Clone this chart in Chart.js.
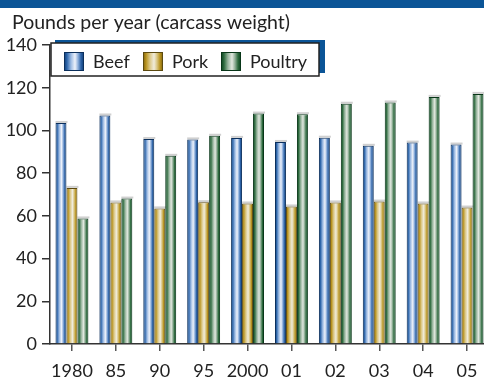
<!DOCTYPE html>
<html>
<head>
<meta charset="utf-8">
<script src="https://cdn.jsdelivr.net/npm/chart.js@4.4.1/dist/chart.umd.min.js"></script>
<style>
  html, body { margin: 0; padding: 0; background: #fff; overflow: hidden; }
  #wrap { position: relative; width: 489px; height: 377px; }
  canvas { display: block; }
</style>
</head>
<body>
<div id="wrap"><canvas id="chart" width="489" height="377"></canvas></div>
<script>
// Per-capita meat consumption, pounds per year (carcass weight)
const years = ['1980', '85', '90', '95', '2000', '01', '02', '03', '04', '05'];
const beef = [103.5, 107, 96, 95.8, 96.5, 94.6, 96.6, 92.8, 94.3, 93.4];
const pork = [73.1, 66.3, 63.5, 66.4, 65.8, 64.4, 66.3, 66.7, 65.8, 63.9];
const poultry = [58.8, 68.1, 88.1, 97.5, 107.9, 107.6, 112.5, 113.1, 115.7, 117.1];
const yTicks = [0, 20, 40, 60, 80, 100, 120, 140];

const FONT = 'Lato, "Open Sans", sans-serif';
const INK = '#222';

// Cylinder-style shading stops for each series
const shades = {
  Beef:    { stops: ['#0d3a73', '#2f67ab', '#9dbbe3', '#eef2fa', '#8fb0dc', '#2c62a6', '#0d3a73'], border: '#0b2f5c' },
  Pork:    { stops: ['#7d600a', '#b8931f', '#dcc98a', '#f0ecdc', '#d9c581', '#b8931f', '#7d600a'], border: '#5c4a10' },
  Poultry: { stops: ['#083d1c', '#2d6b3e', '#98b59e', '#e2e8e0', '#8fae96', '#2d6b3e', '#083d1c'], border: '#083618' }
};
const stopPos = [0, 0.15, 0.35, 0.55, 0.7, 0.85, 1];

function shade(ctx, name, x0, x1) {
  const g = ctx.createLinearGradient(x0, 0, x1, 0);
  shades[name].stops.forEach((c, i) => g.addColorStop(stopPos[i], c));
  return g;
}

// Each bar gets its own horizontal gradient, set just before it is drawn
const barShading = {
  id: 'barShading',
  beforeDatasetsDraw(chart) {
    const ctx = chart.ctx;
    chart.data.datasets.forEach((ds, i) => {
      const meta = chart.getDatasetMeta(i);
      meta.data.forEach(el => {
        const p = el.getProps(['x', 'y', 'width'], true);
        const x0 = p.x - p.width / 2;
        // soft grey cap above each bar
        ctx.save();
        ctx.fillStyle = 'rgba(120,120,120,0.35)';
        ctx.fillRect(x0, p.y - 2, p.width + 1, 2);
        ctx.restore();
        if (!el._shadedDraw) {
          const baseDraw = el.draw;
          el._shadedDraw = true;
          el.draw = function (c) {
            const q = this.getProps(['x', 'width'], true);
            this.options.backgroundColor = shade(c, ds.label, q.x - q.width / 2, q.x + q.width / 2);
            baseDraw.call(this, c);
          };
        }
      });
    });
  }
};

const topDecor = {
  id: 'topDecor',
  beforeDraw(chart) {
    const ctx = chart.ctx;
    ctx.save();
    ctx.fillStyle = '#fff';
    ctx.fillRect(0, 0, chart.width, chart.height);
    // header band
    ctx.fillStyle = '#0b5597';
    ctx.fillRect(0, 0, chart.width, 8);
    // axis title
    ctx.fillStyle = INK;
    ctx.font = '19.5px ' + FONT;
    ctx.textBaseline = 'alphabetic';
    ctx.textAlign = 'left';
    ctx.fillText('Pounds per year (carcass weight)', 12, 29);
    ctx.restore();
  },
  afterDraw(chart) {
    const ctx = chart.ctx;
    ctx.save();
    // legend panel with offset blue backing
    ctx.fillStyle = '#0b5597';
    ctx.fillRect(55, 40, 270, 33);
    ctx.fillStyle = '#fff';
    ctx.fillRect(51, 43, 268, 33);
    ctx.strokeStyle = '#222';
    ctx.lineWidth = 1.5;
    ctx.strokeRect(51, 43, 268, 33);
    const xs = [64, 143, 221];
    ctx.font = '18px ' + FONT;
    ctx.textBaseline = 'middle';
    ctx.textAlign = 'left';
    chart.data.datasets.forEach((ds, i) => {
      const x = xs[i];
      ctx.fillStyle = shade(ctx, ds.label, x, x + 20);
      ctx.fillRect(x, 52, 20, 19);
      ctx.strokeStyle = shades[ds.label].border;
      ctx.lineWidth = 1;
      ctx.strokeRect(x + 0.5, 52.5, 19, 18);
      ctx.fillStyle = INK;
      ctx.fillText(ds.label, x + 29, 62);
    });
    ctx.restore();
  }
};

function makeSet(label, data) {
  return {
    label, data,
    backgroundColor: shades[label].stops[0],
    borderColor: shades[label].border,
    borderWidth: 1,
    borderSkipped: 'bottom',
    barPercentage: 1,
    categoryPercentage: 0.75
  };
}

new Chart(document.getElementById('chart'), {
  type: 'bar',
  data: {
    labels: years,
    datasets: [makeSet('Beef', beef), makeSet('Pork', pork), makeSet('Poultry', poultry)]
  },
  options: {
    responsive: false,
    animation: false,
    events: [],
    layout: { padding: { top: 45, left: 0, right: 0, bottom: 0 } },
    plugins: { legend: { display: false }, tooltip: { enabled: false } },
    scales: {
      x: {
        afterFit(s) { s.height = 33; },
        grid: { display: true, drawOnChartArea: false, offset: false, tickLength: 7, color: '#555', lineWidth: 1.5 },
        border: { display: true, color: '#333', width: 1.5 },
        ticks: { color: INK, font: { family: FONT, size: 18 }, padding: 9, maxRotation: 0, autoSkip: false }
      },
      y: {
        min: 0, max: 140,
        afterFit(s) { s.width = 50; },
        afterBuildTicks(s) { s.ticks = yTicks.map(v => ({ value: v })); },
        grid: { display: true, drawOnChartArea: false, tickLength: 8, color: '#333', lineWidth: 1.5 },
        border: { display: true, color: '#333', width: 1.5 },
        ticks: { color: INK, font: { family: FONT, size: 18 }, padding: 5 }
      }
    }
  },
  plugins: [topDecor, barShading]
});
</script>
</body>
</html>
